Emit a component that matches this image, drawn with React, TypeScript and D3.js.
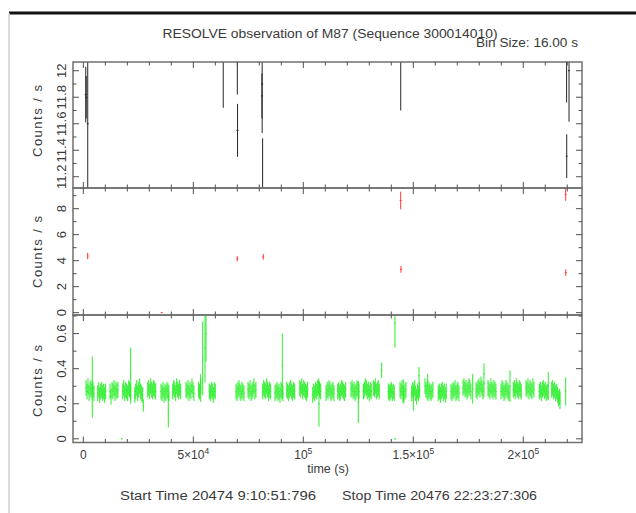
import React from 'react';
import * as d3 from 'd3';

const W = 636;
const H = 513;

// ---------- axis definitions ----------
const xDomain: [number, number] = [-4700, 226700];
const topDomain: [number, number] = [11.115, 12.066];
const midDomain: [number, number] = [-0.18, 9.59];
const botDomain: [number, number] = [-0.021, 0.706];

const xMajorTicks = [0, 50000, 100000, 150000, 200000];
const xTickBase = ['0', '5×10', '10', '1.5×10', '2×10'];
const xTickExp = ['', '4', '5', '5', '5'];
const xMinorTicks = d3.range(0, 23).map((k) => k * 10000);

const topMajor = [11.2, 11.4, 11.6, 11.8, 12];
const topLabels = ['11.2', '11.4', '11.6', '11.8', '12'];
const topMinor = d3.range(112, 121).map((v) => v / 10);
const midMajor = [0, 2, 4, 6, 8];
const midLabels = ['0', '2', '4', '6', '8'];
const midMinor = d3.range(0, 10);
const botMajor = [0, 0.2, 0.4, 0.6];
const botLabels = ['0', '0.2', '0.4', '0.6'];
const botMinor = d3.range(0, 8).map((v) => v / 10);

// ---------- top panel (black) ----------
const topTimes = [1100, 1300, 2000, 63600, 70000, 70100, 81200, 81300, 81500, 144300, 219700, 219750, 220800];
const topRates = [11.82, 11.8, 11.6, 12.1, 12.2, 11.55, 11.81, 11.9, 11.0, 12.1, 12.1, 11.355, 12.0];
const topErrs = [0.21, 0.16, 0.7, 0.38, 0.38, 0.2, 0.17, 0.37, 0.49, 0.4, 0.34, 0.165, 0.385];

// ---------- middle panel (red) ----------
const midTimes = [1980, 35620, 69990, 81800, 144270, 144400, 219280, 219300];
const midRates = [4.36, 0, 4.15, 4.3, 8.63, 3.33, 9.1, 3.08];
const midErrs = [0.25, 0.03, 0.2, 0.22, 0.68, 0.26, 0.5, 0.26];

// ---------- bottom panel (green) ----------
const greenStep = 450;
const greenErr = 0.045;
const greenStarts = [
  1230, 6550, 12140, 17910, 23370, 29280, 35320, 40640, 46680, 52400, 57280,
  69420, 74870, 81550, 87150, 92470, 98380, 104290, 110340, 115650, 121700,
  127290, 131840, 138650, 143970, 149290, 155330, 161380, 167160, 172610,
  178520, 183980, 189890, 195480, 201250, 207300, 212940,
];
const greenRates = [
  [0.29, 0.27, 0.3, 0.26, 0.28, 0.29, 0.27, 0.28, 0.26],
  [0.26, 0.28, 0.25, 0.27, 0.28, 0.26, 0.27, 0.25, 0.27],
  [0.27, 0.24, 0.28, 0.27, 0.29, 0.26, 0.28, 0.27, 0.28],
  [0.27, 0.29, 0.26, 0.28, 0.27, 0.26, 0.29, 0.28, 0.27],
  [0.25, 0.27, 0.29, 0.26, 0.28, 0.3, 0.27, 0.26, 0.25],
  [0.28, 0.29, 0.27, 0.3, 0.28, 0.27, 0.29, 0.28, 0.27],
  [0.27, 0.26, 0.28, 0.25, 0.27, 0.26, 0.28, 0.27, 0.26],
  [0.27, 0.29, 0.28, 0.26, 0.3, 0.28, 0.27, 0.29, 0.27],
  [0.28, 0.27, 0.29, 0.26, 0.28, 0.27, 0.3, 0.28, 0.26],
  [0.28, 0.27, 0.3],
  [0.27, 0.26, 0.28, 0.27, 0.25, 0.28, 0.27],
  [0.27, 0.26, 0.28, 0.29, 0.27, 0.26, 0.28, 0.27, 0.26],
  [0.28, 0.27, 0.29, 0.26, 0.27, 0.28, 0.3, 0.27, 0.28],
  [0.27, 0.29, 0.28, 0.27, 0.3, 0.28, 0.26, 0.28, 0.27],
  [0.26, 0.27, 0.28, 0.26, 0.27, 0.25, 0.28, 0.27, 0.26],
  [0.28, 0.27, 0.26, 0.28, 0.29, 0.27, 0.26, 0.28, 0.27],
  [0.29, 0.28, 0.3, 0.27, 0.29, 0.28, 0.27, 0.26, 0.28],
  [0.25, 0.27, 0.26, 0.28, 0.27, 0.29, 0.3, 0.28, 0.27],
  [0.26, 0.28, 0.27, 0.29, 0.28, 0.26, 0.27, 0.28, 0.26],
  [0.27, 0.28, 0.26, 0.27, 0.29, 0.28, 0.27, 0.26, 0.28],
  [0.28, 0.29, 0.27, 0.28, 0.26, 0.27, 0.29, 0.28, 0.27],
  [0.27, 0.28, 0.3, 0.29, 0.27, 0.28, 0.26, 0.28, 0.27],
  [0.29, 0.28, 0.3, 0.27, 0.28, 0.29, 0.27],
  [0.27, 0.26, 0.27, 0.28, 0.26, 0.27, 0.26],
  [0.28, 0.27, 0.29, 0.26, 0.25, 0.27, 0.28],
  [0.26, 0.28, 0.27, 0.29, 0.26, 0.24, 0.27, 0.26, 0.28],
  [0.3, 0.28, 0.27, 0.26, 0.28, 0.27, 0.26, 0.27, 0.28],
  [0.26, 0.27, 0.25, 0.27, 0.28, 0.26, 0.27, 0.25, 0.27],
  [0.27, 0.26, 0.28, 0.27, 0.29, 0.26, 0.27, 0.28, 0.26],
  [0.29, 0.3, 0.28, 0.29, 0.27, 0.28, 0.3, 0.29, 0.27],
  [0.28, 0.27, 0.29, 0.3, 0.28, 0.31, 0.29, 0.27, 0.28],
  [0.29, 0.28, 0.27, 0.3, 0.28, 0.27, 0.29, 0.28, 0.27],
  [0.27, 0.29, 0.28, 0.26, 0.27, 0.29, 0.28, 0.27, 0.26],
  [0.28, 0.29, 0.27, 0.3, 0.28, 0.27, 0.29, 0.28, 0.27],
  [0.29, 0.28, 0.3, 0.27, 0.29, 0.28, 0.27, 0.3, 0.28],
  [0.27, 0.28, 0.26, 0.28, 0.29, 0.27, 0.28, 0.26, 0.27],
  [0.28, 0.29, 0.27, 0.28, 0.26, 0.27, 0.25, 0.23, 0.24],
];
const spikeTimes = [
  4070, 17440, 21530, 27260, 38620, 53350, 54260, 55310, 55760, 90450, 107130,
  125000, 135630, 141670, 141700, 145450, 150000, 152590, 156540, 177010,
  182140, 193960, 211370, 216690, 219280,
];
const spikeRates = [
  0.295, 0.0, 0.36, 0.19, 0.16, 0.29, 0.46, 0.52, 0.6, 0.415, 0.2, 0.21, 0.39,
  0.66, 0.0, 0.27, 0.22, 0.36, 0.33, 0.285, 0.37, 0.3, 0.3, 0.22, 0.27,
];
const spikeErrs = [
  0.175, 0.004, 0.16, 0.035, 0.095, 0.08, 0.21, 0.2, 0.16, 0.185, 0.13, 0.12,
  0.045, 0.14, 0.004, 0.07, 0.06, 0.05, 0.04, 0.085, 0.06, 0.09, 0.08, 0.05,
  0.08,
];

const FONT = 'Liberation Sans, Arial, sans-serif';
const TXT = '#3a3a3a';
const FRAME = '#707070';
const TICK = '#505050';

type Pt = { t: number; v: number; e: number };

export default function App() {
  const x = d3.scaleLinear().domain(xDomain).range([73, 582]);
  const left = 73;
  const right = 582;

  const topPts: Pt[] = topTimes.map((t, i) => ({ t, v: topRates[i], e: topErrs[i] }));
  const midPts: Pt[] = midTimes.map((t, i) => ({ t, v: midRates[i], e: midErrs[i] }));
  const greenPts: Pt[] = [];
  greenStarts.forEach((s, ci) => {
    greenRates[ci].forEach((v, k) => greenPts.push({ t: s + k * greenStep, v, e: greenErr }));
  });
  spikeTimes.forEach((t, i) => greenPts.push({ t, v: spikeRates[i], e: spikeErrs[i] }));

  const panels = [
    {
      id: 'top', y0: 62, y1: 188, domain: topDomain, major: topMajor, labels: topLabels,
      minor: topMinor, pts: topPts, color: '#262626', labelY: 121, tick: 1,
    },
    {
      id: 'mid', y0: 188, y1: 315, domain: midDomain, major: midMajor, labels: midLabels,
      minor: midMinor, pts: midPts, color: '#ff3b3b', labelY: 252, tick: 1,
    },
    {
      id: 'bot', y0: 315, y1: 442.5, domain: botDomain, major: botMajor, labels: botLabels,
      minor: botMinor, pts: greenPts, color: '#2aee2a', labelY: 381, tick: 0.6,
    },
  ];

  return (
    <svg
      width={W}
      height={H}
      viewBox={`0 0 ${W} ${H}`}
      style={{ position: 'absolute', left: 0, top: 0, background: '#fff' }}
    >
      <rect x={0} y={0} width={W} height={H} fill="#fff" />
      <line x1={9} x2={W} y1={13} y2={13} stroke="#111" strokeWidth={3} />
      <line x1={9} x2={9} y1={13} y2={H} stroke="#d0d0d0" strokeWidth={1.5} />

      <text x={162.5} y={38} fontFamily={FONT} fontSize={12.5} fill={TXT} textLength={335} lengthAdjust="spacingAndGlyphs">
        RESOLVE observation of M87 (Sequence 300014010)
      </text>
      <text x={476} y={47} fontFamily={FONT} fontSize={12.5} fill={TXT} textLength={102} lengthAdjust="spacingAndGlyphs">
        Bin Size: 16.00 s
      </text>

      <defs>
        {panels.map((p) => (
          <clipPath id={`clip-${p.id}`} key={p.id}>
            <rect x={left} y={p.y0} width={right - left} height={p.y1 - p.y0} />
          </clipPath>
        ))}
      </defs>

      {panels.map((p) => {
        const y = d3.scaleLinear().domain(p.domain).range([p.y1, p.y0]);
        return (
          <g key={p.id}>
            {/* data */}
            <g clipPath={`url(#clip-${p.id})`}>
              {p.pts.map((d, i) => (
                <g key={i}>
                  <line
                    x1={x(d.t)} x2={x(d.t)} y1={y(d.v - d.e)} y2={y(d.v + d.e)}
                    stroke={p.color} strokeWidth={1}
                  />
                  <line
                    x1={x(d.t) - p.tick} x2={x(d.t) + p.tick} y1={y(d.v)} y2={y(d.v)}
                    stroke={p.color} strokeWidth={1}
                  />
                </g>
              ))}
            </g>
            {/* frame */}
            <rect x={left} y={p.y0} width={right - left} height={p.y1 - p.y0} fill="none" stroke={FRAME} strokeWidth={1.5} />
            {/* x ticks */}
            {xMinorTicks.map((t) => {
              const len = xMajorTicks.includes(t) ? 6 : 3.5;
              return (
                <g key={`xt${t}`} stroke={TICK} strokeWidth={1}>
                  <line x1={x(t)} x2={x(t)} y1={p.y1} y2={p.y1 - len} />
                  <line x1={x(t)} x2={x(t)} y1={p.y0} y2={p.y0 + len} />
                </g>
              );
            })}
            {/* y ticks */}
            {p.minor.map((v) => {
              const isMajor = p.major.some((m) => Math.abs(m - v) < 1e-9);
              const len = isMajor ? 6 : 3.5;
              return (
                <g key={`yt${v}`} stroke={TICK} strokeWidth={1}>
                  <line x1={left} x2={left + len} y1={y(v)} y2={y(v)} />
                  <line x1={right} x2={right - len} y1={y(v)} y2={y(v)} />
                </g>
              );
            })}
            {/* y labels */}
            {p.major.map((v, i) => (
              <text
                key={`yl${v}`}
                transform={`translate(66,${y(v)}) rotate(-90)`}
                textAnchor="middle"
                fontFamily={FONT}
                fontSize={13}
                fill={TXT}
              >
                {p.labels[i]}
              </text>
            ))}
            <text
              transform={`translate(42,${p.labelY}) rotate(-90)`}
              textAnchor="middle"
              fontFamily={FONT}
              fontSize={13}
              fill={TXT}
              textLength={72}
              lengthAdjust="spacing"
            >
              Counts / s
            </text>
          </g>
        );
      })}

      {/* x tick labels */}
      {xMajorTicks.map((t, i) => (
        <text key={`xl${t}`} x={x(t)} y={459} textAnchor="middle" fontFamily={FONT} fontSize={12} fill={TXT}>
          {xTickBase[i]}
          {xTickExp[i] && (
            <tspan fontSize={8.5} dy={-5}>
              {xTickExp[i]}
            </tspan>
          )}
        </text>
      ))}
      <text x={328} y={473} textAnchor="middle" fontFamily={FONT} fontSize={12.5} fill={TXT}>
        time (s)
      </text>
      <text x={120} y={500} fontFamily={FONT} fontSize={12} fill={TXT} textLength={196} lengthAdjust="spacingAndGlyphs">
        Start Time 20474  9:10:51:796
      </text>
      <text x={342} y={500} fontFamily={FONT} fontSize={12} fill={TXT} textLength={195} lengthAdjust="spacingAndGlyphs">
        Stop Time 20476 22:23:27:306
      </text>
    </svg>
  );
}
